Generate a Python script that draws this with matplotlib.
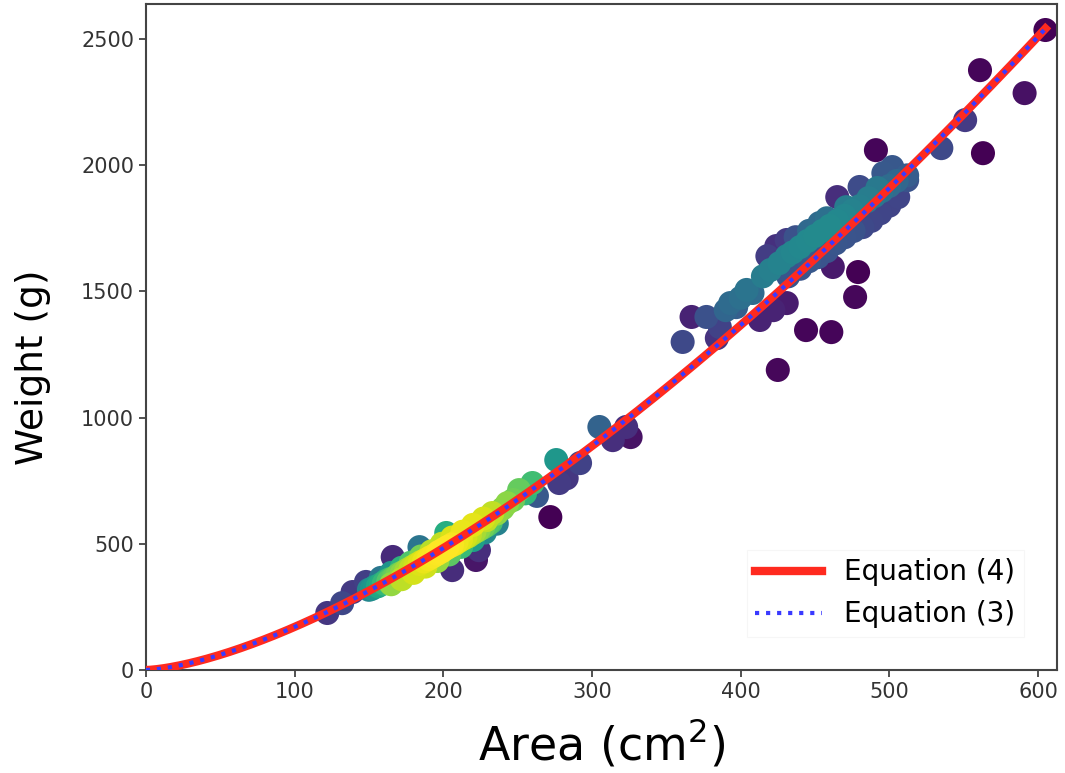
import numpy as np
import matplotlib
matplotlib.use("Agg")
import matplotlib.pyplot as plt

# ---- data ----
area = [
    # lower dense cluster, core
    150, 152, 154, 156, 158, 160, 161, 163, 164, 166, 167, 169, 170, 172, 173, 175,
    176, 178, 179, 181, 182, 184, 185, 187, 188, 190, 191, 193, 194, 196, 197, 199,
    200, 202, 203, 205, 206, 208, 209, 211, 212, 214, 215, 217, 218, 220, 221, 223,
    224, 226, 227, 229, 230, 232,
    # lower cluster, above core
    158, 165, 172, 178, 185, 192, 199, 206, 213, 220, 227,
    # lower cluster, below core
    165, 172, 180, 188, 196, 204, 212, 220, 228, 236,
    # lower cluster edges and tail
    122, 132, 139, 148, 166, 184, 202, 206, 222, 224, 229, 233, 236, 240, 243, 247,
    251, 255, 260, 263, 272, 276, 278, 283, 292,
    # middle
    305, 314, 323, 326,
    # upper-left outliers
    361, 367, 377, 384, 386, 390, 393, 397, 400, 404, 408, 413, 422, 425, 431,
    444, 461, 477, 479, 462,
    # upper cluster band
    415, 420, 426, 431, 435, 440, 445, 450, 455, 460, 465, 470, 475, 480, 485, 490,
    495, 500, 505, 512,
    # upper cluster, above band
    418, 424, 431, 437, 446, 453, 458, 465, 471, 480, 486, 492, 496, 502,
    # upper cluster, below band
    432, 440, 446, 452, 458, 464, 470, 476, 482, 488, 494, 500, 506, 512,
    # top outliers
    491, 535, 551, 561, 563, 591, 605,
]
weight = [
    318, 322, 330, 332, 340, 343, 352, 350, 360, 362, 365, 372, 380, 382, 388, 392,
    398, 400, 408, 410, 418, 420, 428, 430, 436, 440, 446, 450, 455, 460, 468, 470,
    478, 482, 488, 492, 498, 500, 508, 512, 518, 522, 528, 530, 538, 542, 548, 552,
    558, 562, 568, 572, 578, 585,
    365, 385, 405, 425, 450, 470, 500, 525, 548, 575, 600,
    340, 360, 385, 410, 432, 458, 488, 515, 545, 580,
    226, 265, 309, 349, 448, 487, 543, 396, 436, 475, 594, 622, 620, 640, 661, 674,
    713, 700, 741, 690, 606, 832, 741, 760, 820,
    963, 911, 963, 923,
    1300, 1399, 1399, 1315, 1359, 1426, 1454, 1438, 1475, 1506, 1494, 1387, 1426, 1189, 1454,
    1347, 1339, 1478, 1577, 1597,
    1560, 1585, 1612, 1640, 1655, 1676, 1700, 1720, 1740, 1760, 1780, 1800, 1820, 1838, 1858, 1878,
    1898, 1918, 1938, 1960,
    1640, 1680, 1704, 1715, 1740, 1771, 1790, 1874, 1834, 1914, 1870, 1910, 1969, 1993,
    1560, 1590, 1620, 1636, 1660, 1691, 1715, 1740, 1755, 1780, 1810, 1840, 1874, 1941,
    2060, 2068, 2179, 2377, 2048, 2286, 2536,
]

# fitted equations W = a * A**b
eq4_a, eq4_b = 0.1708, 1.5
eq3_a, eq3_b = 0.1712, 1.4996
curve_max_area = 605

x_ticks = [0, 100, 200, 300, 400, 500, 600]
y_ticks = [0, 500, 1000, 1500, 2000, 2500]

# ---- figure ----
fig = plt.figure(figsize=(10.65, 7.73), dpi=100)
ax = fig.add_axes([0.137, 0.1332, 0.8555, 0.8616])

xa = np.asarray(area, float)
ya = np.asarray(weight, float)
# Gaussian KDE with full covariance (Scott's rule) for point colouring
pts = np.vstack([xa, ya])
n = pts.shape[1]
factor = n ** (-1.0 / 6.0)
cov = np.cov(pts) * factor ** 2
icov = np.linalg.inv(cov)
diff = pts[:, :, None] - pts[:, None, :]
q = np.einsum("ijk,il,ljk->jk", diff, icov, diff)
dens = np.exp(-0.5 * q).sum(axis=1)
order = dens.argsort()
ax.scatter(xa[order], ya[order], c=dens[order], cmap="viridis", s=300,
           edgecolors="none", zorder=2)

xc = np.linspace(0, curve_max_area, 400)
ax.plot(xc, eq4_a * xc ** eq4_b, color="#ff2a1f", lw=6, label="Equation (4)", zorder=3)
ax.plot(xc, eq3_a * xc ** eq3_b, color="#3a3aff", lw=3, ls=":", label="Equation (3)", zorder=4)

ax.set_xlim(0, 612.8)
ax.set_ylim(0, 2639)
ax.set_xticks(x_ticks)
ax.set_yticks(y_ticks)
ax.tick_params(labelsize=15, colors="#333333", length=5, width=1.2)
for sp in ax.spines.values():
    sp.set_color("#444444")
    sp.set_linewidth(1.5)
ax.set_xlabel("Area (cm$^2$)", fontsize=33, labelpad=11)
ax.set_ylabel("Weight (g)", fontsize=27)
ax.yaxis.set_label_coords(-0.104, 0.455)

leg = ax.legend(loc="lower right", fontsize=20, frameon=True, handlelength=2.4,
                borderaxespad=1.2, borderpad=0.3, fancybox=False)
leg.get_frame().set_edgecolor("#f4f4f4")
leg.get_frame().set_linewidth(0.8)

fig.savefig("out.png", dpi=100)
